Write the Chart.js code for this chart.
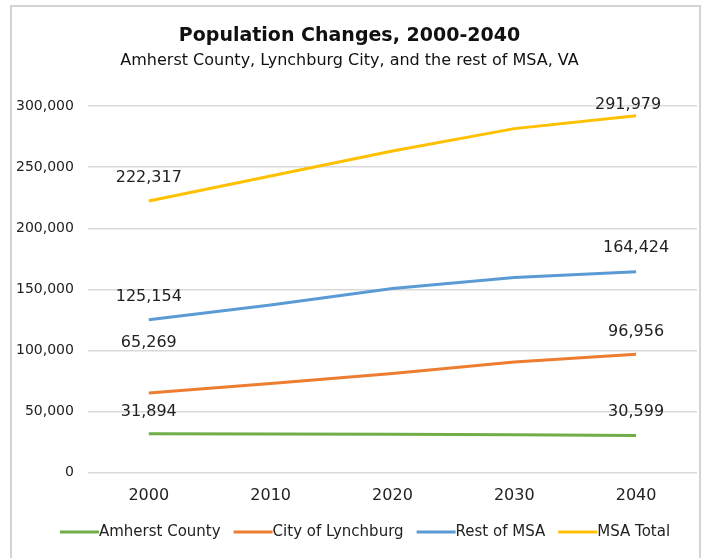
<!DOCTYPE html>
<html>
<head>
<meta charset="utf-8">
<script src="https://cdn.jsdelivr.net/npm/chart.js@4"></script>
<style>
  body { margin: 0; background: #fff; }
  #wrap { position: relative; width: 713px; height: 558px; }
  #frame { position: absolute; left: 10px; top: 5px; width: 691px; height: 560px; border: 2px solid #d4d4d4; box-sizing: border-box; }
  canvas { position: absolute; left: 0; top: 0; }
</style>
</head>
<body>
<div id="wrap">
  <div id="frame"></div>
  <canvas id="chart" width="713" height="558"></canvas>
</div>
<script>
const years = ['2000', '2010', '2020', '2030', '2040'];
const amherst = [31894, 31700, 31500, 31100, 30599];
const lynchburg = [65269, 73000, 81200, 90700, 96956];
const restOfMsa = [125154, 137300, 150700, 159700, 164424];
const msaTotal = [222317, 242800, 263200, 281500, 291979];

const FONT = 'DejaVu Sans';

// label offsets for first / last point of each line (px)
const labelShift = [
  [[0, -22], [0, -24]],
  [[0, -50], [0, -22]],
  [[0, -23], [0, -24]],
  [[0, -23], [-8, -11]]
];

const endLabels = {
  id: 'endLabels',
  afterDatasetsDraw(chart) {
    const ctx = chart.ctx;
    ctx.save();
    ctx.font = '16px ' + FONT;
    ctx.fillStyle = '#222';
    ctx.textAlign = 'center';
    ctx.textBaseline = 'middle';
    chart.data.datasets.forEach((ds, i) => {
      const pts = chart.getDatasetMeta(i).data;
      [0, pts.length - 1].forEach((idx, k) => {
        const p = pts[idx];
        const s = labelShift[i][k];
        ctx.fillText(ds.data[idx].toLocaleString('en-US'), p.x + s[0], p.y + s[1]);
      });
    });
    ctx.restore();
  }
};

// legend: swatch line butted against its text, like the original
const lineLegend = {
  id: 'lineLegend',
  afterDraw(chart) {
    const ctx = chart.ctx;
    const sw = 39, gap = 13, y = 532;
    ctx.save();
    ctx.font = '15px ' + FONT;
    ctx.textBaseline = 'middle';
    const items = chart.data.datasets.map(d => ({ text: d.label, color: d.borderColor, w: ctx.measureText(d.label).width }));
    const total = items.reduce((a, it) => a + sw + it.w, 0) + gap * (items.length - 1);
    let x = 365 - total / 2;
    items.forEach(it => {
      ctx.strokeStyle = it.color;
      ctx.lineWidth = 3;
      ctx.beginPath();
      ctx.moveTo(x, y);
      ctx.lineTo(x + sw, y);
      ctx.stroke();
      ctx.fillStyle = '#222';
      ctx.fillText(it.text, x + sw, y);
      x += sw + it.w + gap;
    });
    ctx.restore();
  }
};

const ctx = document.getElementById('chart').getContext('2d');
new Chart(ctx, {
  type: 'line',
  data: {
    labels: years,
    datasets: [
      { label: 'Amherst County', data: amherst, borderColor: '#70ad47' },
      { label: 'City of Lynchburg', data: lynchburg, borderColor: '#ed7d31' },
      { label: 'Rest of MSA', data: restOfMsa, borderColor: '#5b9bd5' },
      { label: 'MSA Total', data: msaTotal, borderColor: '#ffc000' }
    ].map(d => Object.assign(d, { borderWidth: 3, pointRadius: 0, tension: 0, backgroundColor: d.borderColor }))
  },
  options: {
    responsive: false,
    animation: false,
    layout: { padding: { left: 2, right: 16, top: 25, bottom: 48 } },
    plugins: {
      title: {
        display: true,
        text: 'Population Changes, 2000-2040',
        color: '#111',
        font: { family: FONT, size: 19, weight: 'bold' },
        padding: { top: 0, bottom: 3 }
      },
      subtitle: {
        display: true,
        text: 'Amherst County, Lynchburg City, and the rest of MSA, VA',
        color: '#111',
        font: { family: FONT, size: 16 },
        padding: { top: 0, bottom: 36 }
      },
      legend: { display: false },
      tooltip: { enabled: false }
    },
    scales: {
      x: {
        offset: true,
        grid: { display: false },
        border: { display: false },
        ticks: { color: '#222', font: { family: FONT, size: 16 }, padding: 5 }
      },
      y: {
        min: 0,
        max: 300000,
        ticks: {
          stepSize: 50000,
          color: '#222',
          font: { family: FONT, size: 14 },
          padding: 14,
          callback: v => v.toLocaleString('en-US')
        },
        grid: { color: '#d9d9d9', lineWidth: 1.5, drawTicks: false },
        border: { display: false }
      }
    }
  },
  plugins: [endLabels, lineLegend]
});
</script>
</body>
</html>
